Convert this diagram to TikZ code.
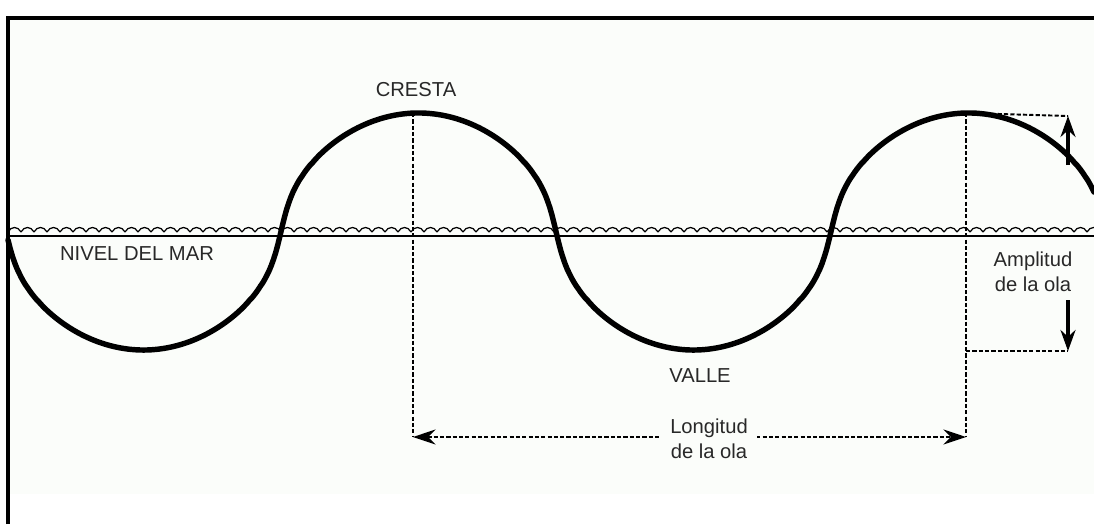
\documentclass[tikz,border=0pt]{standalone}
\usepackage{fontspec}
\setmainfont{Liberation Sans}
\usetikzlibrary{arrows.meta}
\definecolor{labelgray}{RGB}{40,40,40}
\definecolor{paper}{RGB}{251,253,250}
\tikzset{
  lbl/.style={text=labelgray, font=\fontsize{11.5}{14}\selectfont, inner sep=1pt},
  guide/.style={dash pattern=on 2.4pt off 1.2pt, line width=1.1pt},
  tip/.style={-{Stealth[length=4.2mm,width=3mm]}, line width=1.8pt},
  bothtips/.style={{Stealth[length=4.5mm,width=3mm]}-{Stealth[length=4.5mm,width=3mm]}},
  waveline/.style={line width=3.1pt, line cap=round, line join=round},
}
\begin{document}
\begin{tikzpicture}[x=0.02cm, y=-0.02cm]
  \useasboundingbox (0,0) rectangle (1094,524);
  \fill[paper] (8,18) rectangle (1094,494);
  % frame
  \draw[line width=2.2pt] (8,524) -- (8,18) -- (1094,18);

  % sea level
  \draw[line width=1.2pt] (8,236) -- (1094,236);
  \foreach \i in {0,...,83}
    \draw[line width=0.7pt] ({8+13*\i},232) .. controls +(3,-6) and +(-3,-6) .. ({21+13*\i},232);

  % wave
  \draw[waveline] plot[domain=8:1094, samples=500]
    (\x, {231.5-118.8*sin((\x-281)*0.65455)*pow(sin((\x-281)*0.65455)^2+0.01,-0.25)});

  % reference points
  \coordinate (crestL) at (413,113);
  \coordinate (crestR) at (966,113);
  \coordinate (lenL) at (413,437);
  \coordinate (lenR) at (966,437);
  \coordinate (ampTop) at (1068,116);
  \coordinate (ampBot) at (1068,351);
  \coordinate (ampBotR) at (966,351);
  \coordinate (upStart) at (1068,165);
  \coordinate (downStart) at (1068,300);

  \draw[guide] (crestL) -- (lenL);
  \draw[guide] (crestR) -- (lenR);
  \draw[guide] (crestR) -- (ampTop);
  \draw[guide] (ampBotR) -- (ampBot);
  \draw[guide, bothtips] (lenL) -- (lenR);
  \draw[tip] (upStart) -- (ampTop);
  \draw[tip] (downStart) -- (ampBot);

  % labels
  \node[lbl] (crest) at (416,90) {CRESTA};
  \node[lbl] (sealevel) at (137,254) {NIVEL DEL MAR};
  \node[lbl] (trough) at (700,376) {VALLE};
  \node[lbl, align=center] (amplitude) at (1033,272) {Amplitud\\de la ola};
  \node[lbl, align=center, fill=paper, inner xsep=5pt] (wavelength) at (709,439) {Longitud\\de la ola};
\end{tikzpicture}
\end{document}
